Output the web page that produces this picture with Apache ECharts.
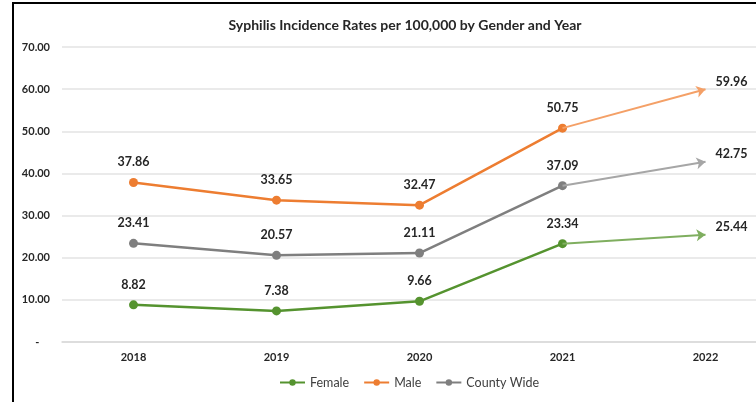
<!DOCTYPE html>
<html>
<head>
<meta charset="utf-8">
<script src="https://cdn.jsdelivr.net/npm/echarts@6/dist/echarts.min.js"></script>
<style>
html, body { margin: 0; padding: 0; background: #fff; }
#main { width: 756px; height: 402px; }
</style>
</head>
<body>
<div id="main"></div>
<script>
var years = ['2018', '2019', '2020', '2021', '2022'];
var female = [8.82, 7.38, 9.66, 23.34, 25.44];
var male = [37.86, 33.65, 32.47, 50.75, 59.96];
var countyWide = [23.41, 20.57, 21.11, 37.09, 42.75];

var fontFam = 'Lato, "Open Sans", sans-serif';

// solid part 2018-2021, the 2022 step is drawn as a lighter arrow
function makeSeries(name, vals, color, tailColor) {
    return {
        name: name,
        type: 'line',
        data: vals.slice(0, 4),
        symbol: 'circle',
        symbolSize: 9,
        lineStyle: { color: color, width: 2.5 },
        itemStyle: { color: color },
        label: {
            show: true,
            position: 'top',
            distance: 9,
            color: '#262626',
            fontWeight: 'bold',
            fontSize: 12.5,
            fontFamily: fontFam,
            formatter: function (p) { return p.value.toFixed(2); }
        },
        markLine: {
            silent: true,
            symbol: ['none', 'arrow'],
            symbolSize: [9, 9],
            lineStyle: { color: tailColor, width: 2, type: 'solid' },
            label: { show: false },
            data: [[
                { coord: [years[3], vals[3]] },
                { coord: [years[4], vals[4]] }
            ]]
        },
        markPoint: {
            silent: true,
            symbol: 'circle',
            symbolSize: 0,
            label: {
                show: true,
                position: 'top',
                offset: [26, 4],
                color: '#262626',
                fontWeight: 'bold',
                fontSize: 12.5,
                fontFamily: fontFam,
                formatter: function () { return vals[4].toFixed(2); }
            },
            data: [{ coord: [years[4], vals[4]] }]
        }
    };
}

var myChart = echarts.init(document.getElementById('main'), null, {renderer: 'canvas'});

option = {
    animation: false,
    backgroundColor: '#fff',
    title: {
        text: 'Syphilis Incidence Rates per 100,000 by Gender and Year',
        left: 400,
        textAlign: 'center',
        top: 13,
        textStyle: { fontSize: 14, fontWeight: 'bold', color: '#262626', fontFamily: fontFam }
    },
    legend: {
        data: ['Female', 'Male', 'County Wide'],
        bottom: 8,
        left: 274,
        itemWidth: 25,
        itemHeight: 8,
        itemGap: 14,
        textStyle: { fontSize: 12.5, color: '#404040', fontFamily: fontFam }
    },
    grid: {
        left: 62,
        right: -21,
        top: 47,
        bottom: 60,
        containLabel: false,
        outerBoundsMode: 'none'
    },
    xAxis: {
        type: 'category',
        data: years,
        axisLine: { lineStyle: { color: '#d9d9d9', width: 1.5 } },
        axisTick: { show: false },
        axisLabel: { color: '#262626', fontWeight: 'bold', fontSize: 11, fontFamily: fontFam, margin: 10 }
    },
    yAxis: {
        type: 'value',
        min: 0,
        max: 70,
        interval: 10,
        axisLine: { show: false },
        axisTick: { show: false },
        splitLine: { lineStyle: { color: '#e3e3e3', width: 1.5 } },
        axisLabel: {
            color: '#262626',
            fontWeight: 'bold',
            fontSize: 11,
            fontFamily: fontFam,
            margin: 12,
            formatter: function (v) { return v === 0 ? '-    ' : v.toFixed(2); }
        }
    },
    graphic: [{
        type: 'rect',
        shape: { x: 13, y: 3, width: 900, height: 600 },
        style: { fill: 'none', stroke: '#000', lineWidth: 2 },
        silent: true
    }],
    series: [
        makeSeries('Female', female, '#55932f', '#7fae5f'),
        makeSeries('Male', male, '#ed7d31', '#f4a067'),
        makeSeries('County Wide', countyWide, '#7f7f7f', '#a6a6a6')
    ]
};

myChart.setOption(option);
</script>
</body>
</html>
